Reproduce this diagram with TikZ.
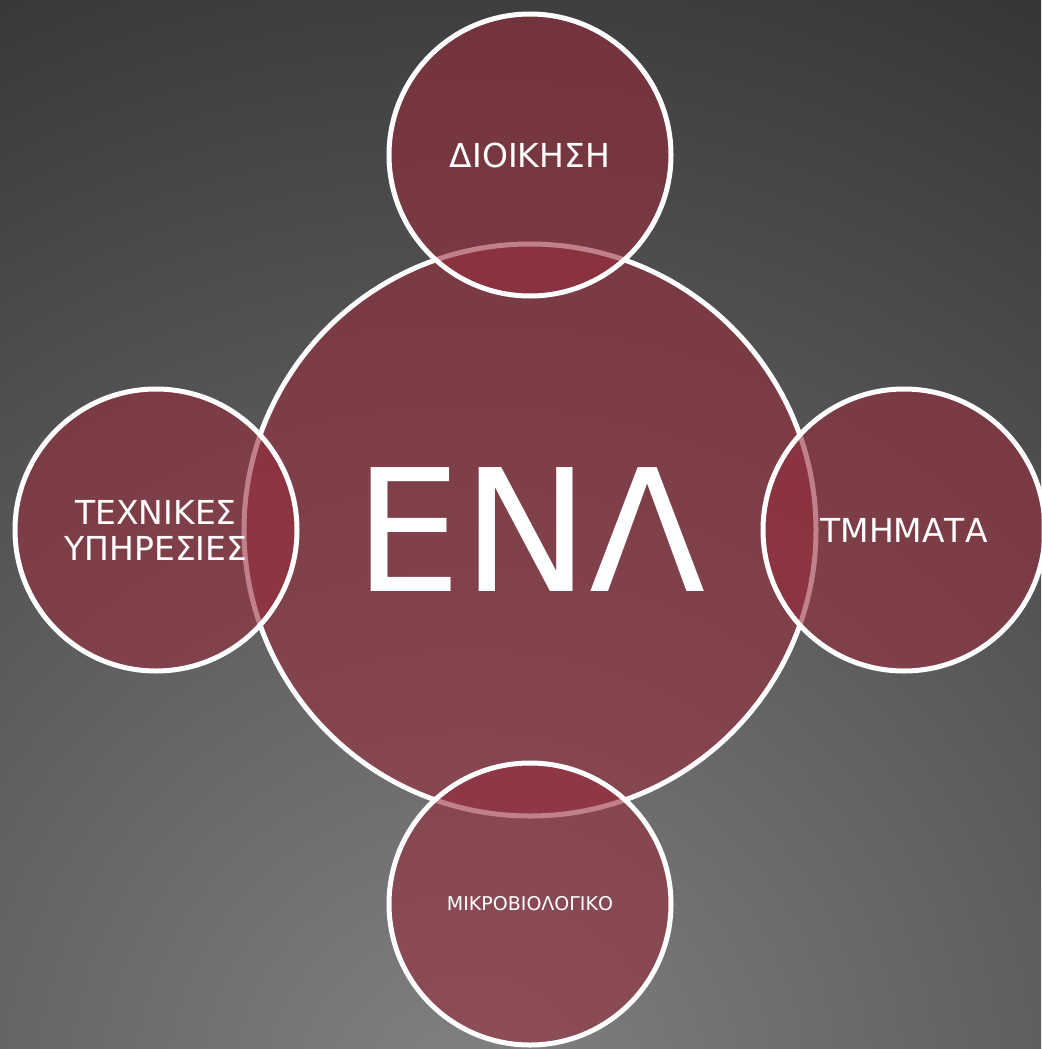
\documentclass[tikz,border=0pt]{standalone}
\usepackage{fontspec}
\setmainfont{DejaVu Sans}
\begin{document}
\begin{tikzpicture}[x=1pt,y=-1pt]
\definecolor{bginner}{RGB}{130,130,130}
\definecolor{bgouter}{RGB}{50,50,50}
\definecolor{ringfill}{RGB}{150,45,60}
\tikzset{
  bubble/.style={circle, draw=white, line width=5pt, fill=ringfill, fill opacity=0.6,
    draw opacity=1, text opacity=1, text=white, inner sep=0pt, align=center},
  hub/.style={bubble, minimum size=572pt, font=\fontsize{170}{172}\selectfont},
  sat/.style={bubble, minimum size=282pt, font=\fontsize{33}{36}\selectfont},
  smallsat/.style={sat, font=\fontsize{19}{22}\selectfont},
}
\useasboundingbox (0,0) rectangle (1041,1049);
\begin{scope}
  \clip (0,0) rectangle (1041,1049);
  \shade[inner color=bginner, outer color=bgouter] (470,1100) circle (1300);
\end{scope}
\node[hub] (hub) at (530,530) {ΕΝΛ};
\node[sat] (top) at (530,155) {ΔΙΟΙΚΗΣΗ};
\node[sat] (left) at (156,530) {ΤΕΧΝΙΚΕΣ\\ΥΠΗΡΕΣΙΕΣ};
\node[sat] (right) at (904,530) {ΤΜΗΜΑΤΑ};
\node[smallsat] (bottom) at (530,904) {ΜΙΚΡΟΒΙΟΛΟΓΙΚΟ};
\end{tikzpicture}
\end{document}
